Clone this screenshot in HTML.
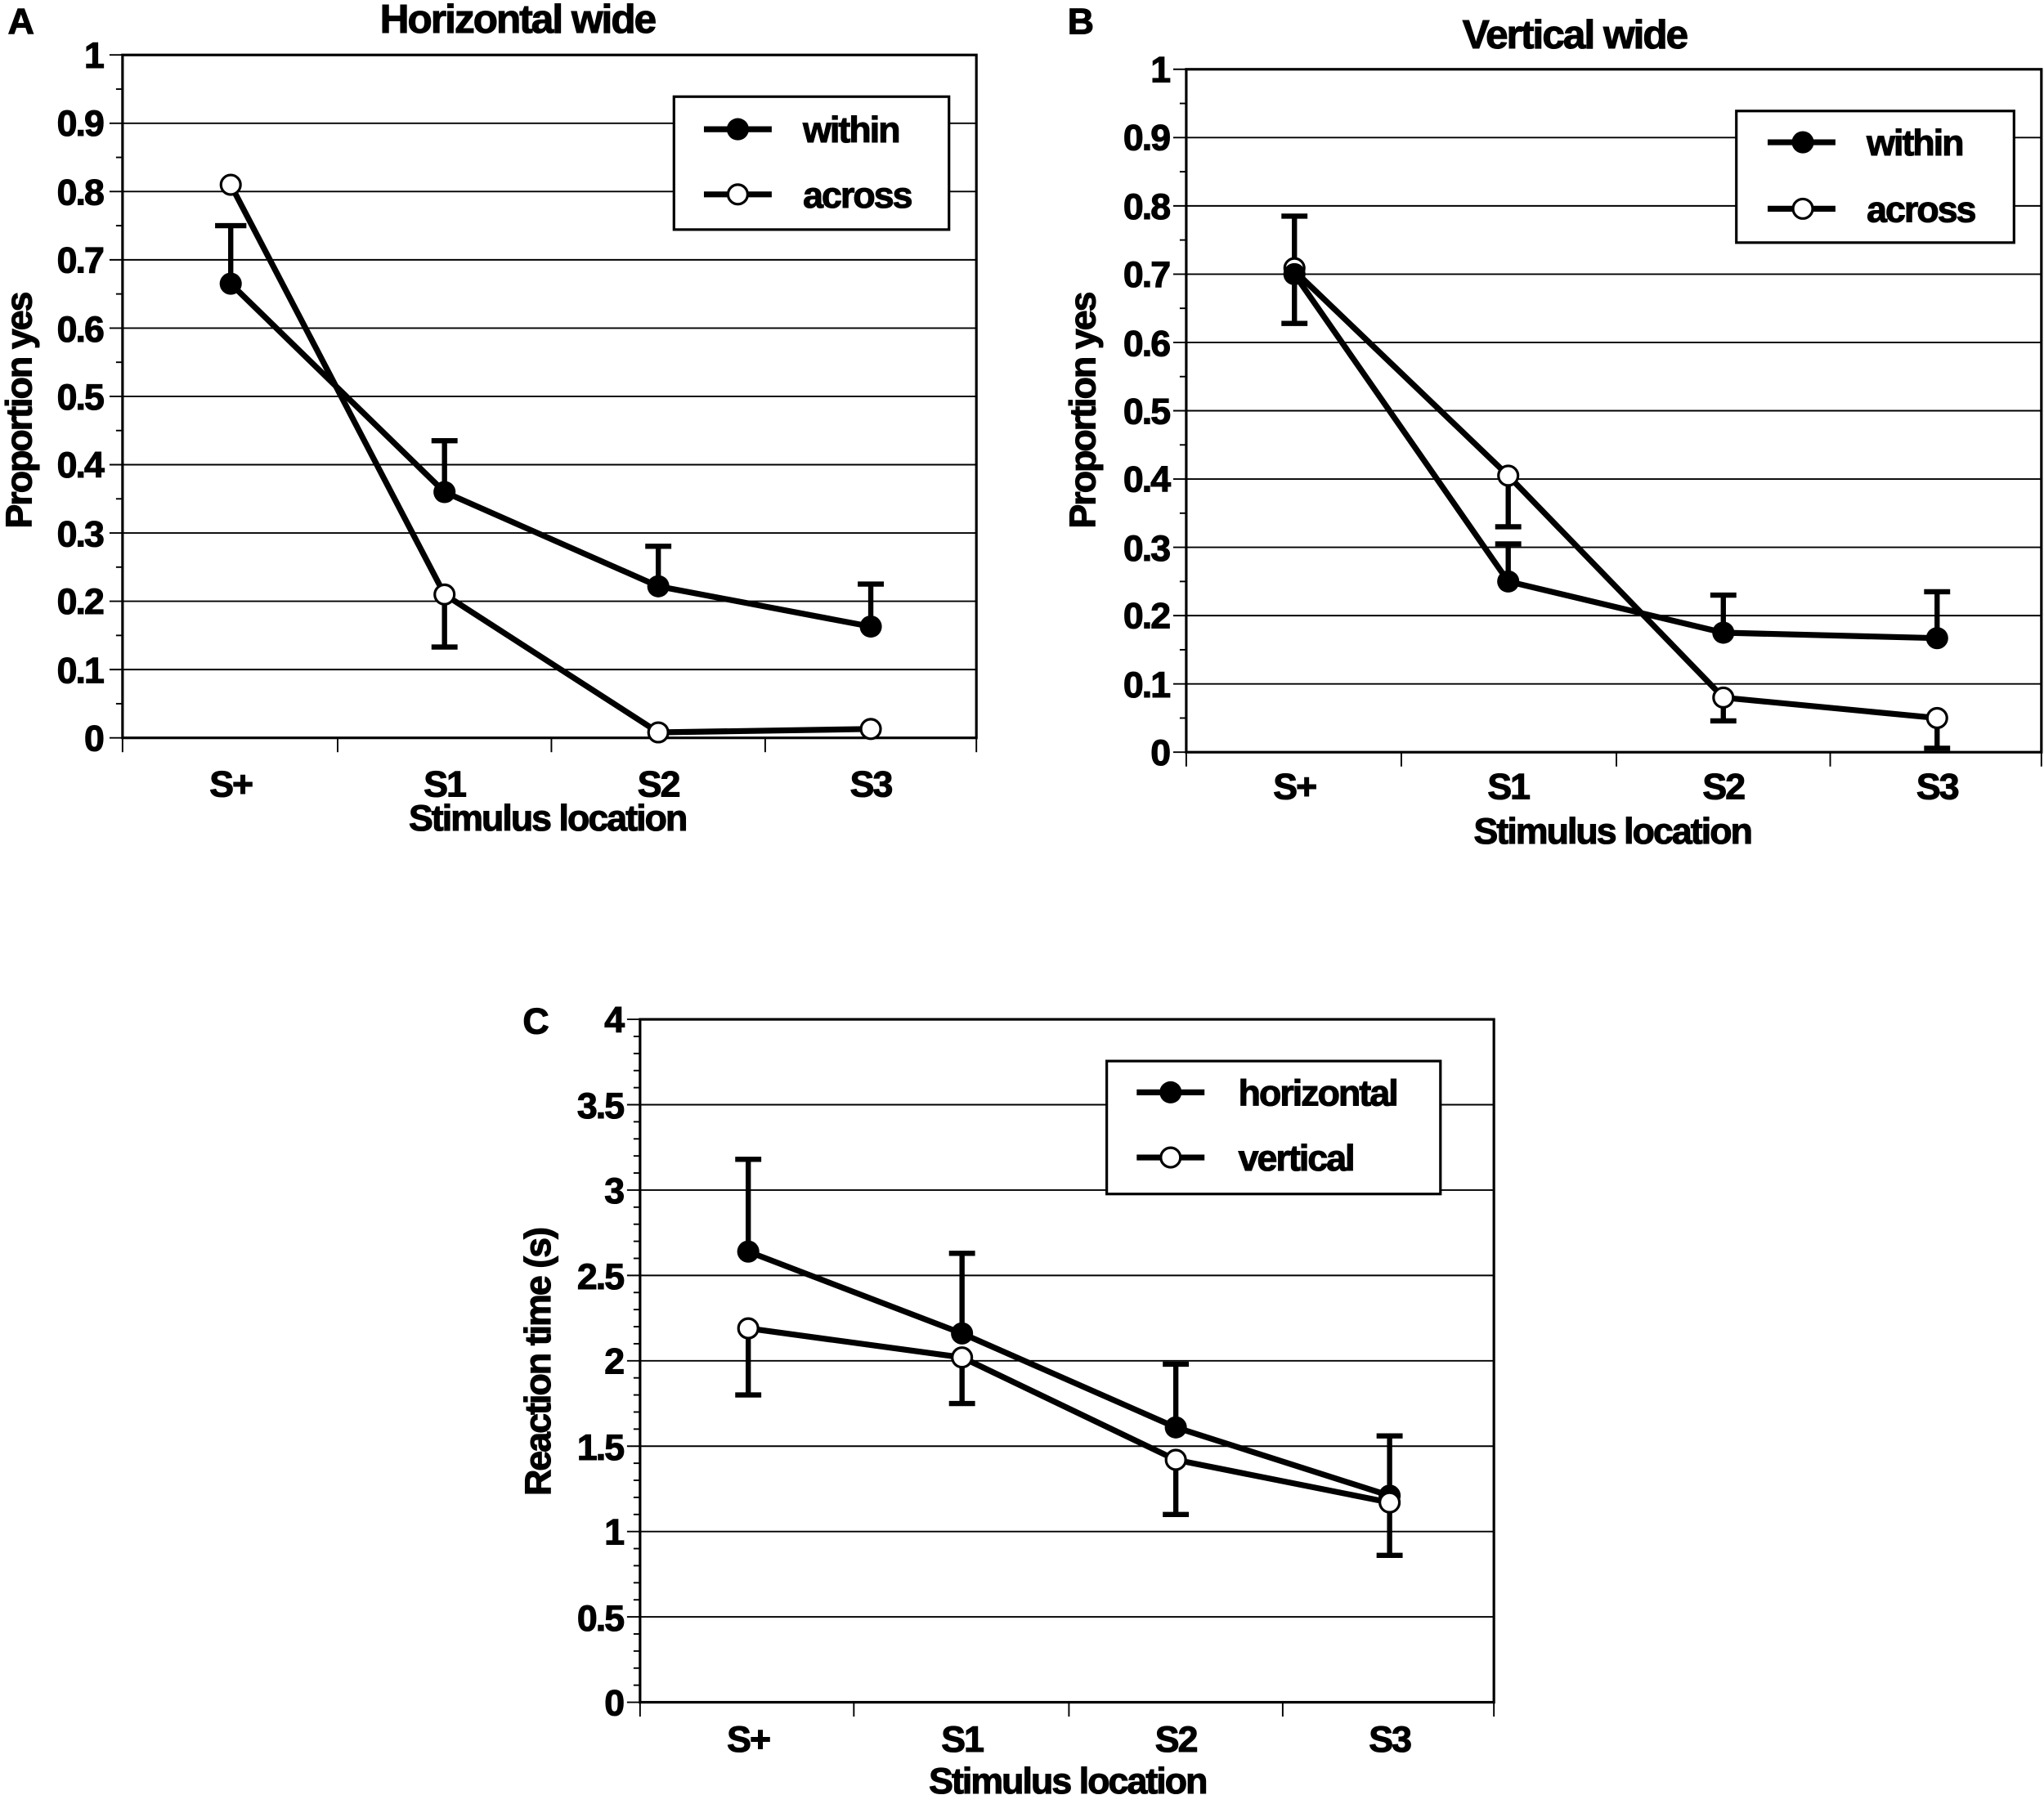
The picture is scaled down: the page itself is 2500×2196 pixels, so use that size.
<!DOCTYPE html>
<html><head><meta charset="utf-8"><style>
html,body{margin:0;padding:0;background:#fff}
svg{display:block}
text{font-family:"Liberation Sans",sans-serif;font-weight:bold;fill:#000}
.t{font-size:28px;letter-spacing:-1.2px;stroke:#000;stroke-width:0.7}
.g{stroke:#000;stroke-width:1.2}
.d{stroke:#000;stroke-width:4.5;fill:none}
.e{stroke:#000;stroke-width:4;fill:none}
.f{fill:#000}
.o{fill:#fff;stroke:#000;stroke-width:2}
</style></head><body>
<svg width="2500" height="2196" viewBox="0 0 1568 1377" xmlns="http://www.w3.org/2000/svg">
<!-- Panel A -->
<text x="6" y="26" class="t">A</text>
<text x="397" y="25" class="t" text-anchor="middle" style="font-size:31px">Horizontal wide</text>
<g class="g">
<line x1="94" y1="513.6" x2="749" y2="513.6"/><line x1="94" y1="461.2" x2="749" y2="461.2"/><line x1="94" y1="408.8" x2="749" y2="408.8"/><line x1="94" y1="356.4" x2="749" y2="356.4"/><line x1="94" y1="304" x2="749" y2="304"/><line x1="94" y1="251.6" x2="749" y2="251.6"/><line x1="94" y1="199.2" x2="749" y2="199.2"/><line x1="94" y1="146.8" x2="749" y2="146.8"/><line x1="94" y1="94.4" x2="749" y2="94.4"/>
<line x1="84" y1="566" x2="94" y2="566"/><line x1="84" y1="513.6" x2="94" y2="513.6"/><line x1="84" y1="461.2" x2="94" y2="461.2"/><line x1="84" y1="408.8" x2="94" y2="408.8"/><line x1="84" y1="356.4" x2="94" y2="356.4"/><line x1="84" y1="304" x2="94" y2="304"/><line x1="84" y1="251.6" x2="94" y2="251.6"/><line x1="84" y1="199.2" x2="94" y2="199.2"/><line x1="84" y1="146.8" x2="94" y2="146.8"/><line x1="84" y1="94.4" x2="94" y2="94.4"/><line x1="84" y1="42" x2="94" y2="42"/>
<line x1="89" y1="539.8" x2="94" y2="539.8"/><line x1="89" y1="487.4" x2="94" y2="487.4"/><line x1="89" y1="435" x2="94" y2="435"/><line x1="89" y1="382.6" x2="94" y2="382.6"/><line x1="89" y1="330.2" x2="94" y2="330.2"/><line x1="89" y1="277.8" x2="94" y2="277.8"/><line x1="89" y1="225.4" x2="94" y2="225.4"/><line x1="89" y1="173" x2="94" y2="173"/><line x1="89" y1="120.6" x2="94" y2="120.6"/><line x1="89" y1="68.2" x2="94" y2="68.2"/>
<line x1="94" y1="566" x2="94" y2="577"/><line x1="259" y1="566" x2="259" y2="577"/><line x1="423" y1="566" x2="423" y2="577"/><line x1="587" y1="566" x2="587" y2="577"/><line x1="749" y1="566" x2="749" y2="577"/>
</g>
<rect x="94" y="42" width="655" height="524" fill="none" stroke="#000" stroke-width="2"/>
<g class="t" text-anchor="end">
<text x="79" y="576">0</text><text x="79" y="524">0.1</text><text x="79" y="471">0.2</text><text x="79" y="419">0.3</text><text x="79" y="366">0.4</text><text x="79" y="314">0.5</text><text x="79" y="262">0.6</text><text x="79" y="209">0.7</text><text x="79" y="157">0.8</text><text x="79" y="104">0.9</text><text x="79" y="52">1</text>
</g>
<g class="t" text-anchor="middle">
<text x="177" y="611">S+</text><text x="341" y="611">S1</text><text x="505" y="611">S2</text><text x="668" y="611">S3</text>
<text x="420" y="637">Stimulus location</text>
</g>
<text class="t" transform="translate(24,315) rotate(-90)" text-anchor="middle">Proportion yes</text>
<path class="e" d="M177 217.5V173M165 173H189M341 377.4V338M331 338H351M505 449.7V419M495 419H515M668 480.6V448M658 448H678M341 456V496.3M331 496.3H351"/>
<polyline class="d" points="177,217.5 341,377.4 505,449.7 668,480.6"/>
<polyline class="d" points="177,141.6 341,456 505,561.8 668,559.2"/>
<circle class="f" cx="177" cy="217.5" r="8.5"/><circle class="f" cx="341" cy="377.4" r="8.5"/><circle class="f" cx="505" cy="449.7" r="8.5"/><circle class="f" cx="668" cy="480.6" r="8.5"/>
<circle class="o" cx="177" cy="141.6" r="7.5"/><circle class="o" cx="341" cy="456" r="7.5"/><circle class="o" cx="505" cy="561.8" r="7.5"/><circle class="o" cx="668" cy="559.2" r="7.5"/>
<rect x="517" y="74" width="211" height="102" fill="#fff" stroke="#000" stroke-width="2"/>
<line class="d" x1="540" y1="99" x2="592" y2="99"/><circle class="f" cx="566" cy="99" r="8.5"/>
<line class="d" x1="540" y1="149" x2="592" y2="149"/><circle class="o" cx="566" cy="149" r="7.5"/>
<text class="t" x="616" y="109">within</text><text class="t" x="616" y="159">across</text>

<!-- Panel B -->
<text x="819" y="26" class="t">B</text>
<text x="1208" y="37" class="t" text-anchor="middle" style="font-size:31px">Vertical wide</text>
<g class="g">
<line x1="910" y1="524.6" x2="1566" y2="524.6"/><line x1="910" y1="472.2" x2="1566" y2="472.2"/><line x1="910" y1="419.8" x2="1566" y2="419.8"/><line x1="910" y1="367.4" x2="1566" y2="367.4"/><line x1="910" y1="315" x2="1566" y2="315"/><line x1="910" y1="262.6" x2="1566" y2="262.6"/><line x1="910" y1="210.2" x2="1566" y2="210.2"/><line x1="910" y1="157.8" x2="1566" y2="157.8"/><line x1="910" y1="105.4" x2="1566" y2="105.4"/>
<line x1="900" y1="577" x2="910" y2="577"/><line x1="900" y1="524.6" x2="910" y2="524.6"/><line x1="900" y1="472.2" x2="910" y2="472.2"/><line x1="900" y1="419.8" x2="910" y2="419.8"/><line x1="900" y1="367.4" x2="910" y2="367.4"/><line x1="900" y1="315" x2="910" y2="315"/><line x1="900" y1="262.6" x2="910" y2="262.6"/><line x1="900" y1="210.2" x2="910" y2="210.2"/><line x1="900" y1="157.8" x2="910" y2="157.8"/><line x1="900" y1="105.4" x2="910" y2="105.4"/><line x1="900" y1="53" x2="910" y2="53"/>
<line x1="905" y1="550.8" x2="910" y2="550.8"/><line x1="905" y1="498.4" x2="910" y2="498.4"/><line x1="905" y1="446" x2="910" y2="446"/><line x1="905" y1="393.6" x2="910" y2="393.6"/><line x1="905" y1="341.2" x2="910" y2="341.2"/><line x1="905" y1="288.8" x2="910" y2="288.8"/><line x1="905" y1="236.4" x2="910" y2="236.4"/><line x1="905" y1="184" x2="910" y2="184"/><line x1="905" y1="131.6" x2="910" y2="131.6"/><line x1="905" y1="79.2" x2="910" y2="79.2"/>
<line x1="910" y1="577" x2="910" y2="588"/><line x1="1075" y1="577" x2="1075" y2="588"/><line x1="1240" y1="577" x2="1240" y2="588"/><line x1="1404" y1="577" x2="1404" y2="588"/><line x1="1566" y1="577" x2="1566" y2="588"/>
</g>
<rect x="910" y="53" width="656" height="524" fill="none" stroke="#000" stroke-width="2"/>
<g class="t" text-anchor="end">
<text x="897" y="587">0</text><text x="897" y="535">0.1</text><text x="897" y="482">0.2</text><text x="897" y="430">0.3</text><text x="897" y="377">0.4</text><text x="897" y="325">0.5</text><text x="897" y="273">0.6</text><text x="897" y="220">0.7</text><text x="897" y="168">0.8</text><text x="897" y="115">0.9</text><text x="897" y="63">1</text>
</g>
<g class="t" text-anchor="middle">
<text x="993" y="613">S+</text><text x="1157" y="613">S1</text><text x="1322" y="613">S2</text><text x="1486" y="613">S3</text>
<text x="1237" y="647">Stimulus location</text>
</g>
<text class="t" transform="translate(840,315) rotate(-90)" text-anchor="middle">Proportion yes</text>
<path class="e" d="M993 248V165.7M983 248H1003M983 165.7H1003M1157 446V417.2M1147 417.2H1167M1157 364.8V404M1147 404H1167M1322 485.3V456.5M1312 456.5H1332M1486 489.5V453.9M1476 453.9H1496M1322 535.1V553M1312 553H1332M1486 550.8V574M1476 574H1496"/>
<polyline class="d" points="993,210.2 1157,446 1322,485.3 1486,489.5"/>
<polyline class="d" points="993,207.6 1157,364.8 1322,535.1 1486,550.8"/>
<circle class="o" cx="993" cy="205.6" r="7.5"/>
<circle class="f" cx="993" cy="210.2" r="8.5"/><circle class="f" cx="1157" cy="446" r="8.5"/><circle class="f" cx="1322" cy="485.3" r="8.5"/><circle class="f" cx="1486" cy="489.5" r="8.5"/>
<circle class="o" cx="1157" cy="364.8" r="7.5"/><circle class="o" cx="1322" cy="535.1" r="7.5"/><circle class="o" cx="1486" cy="550.8" r="7.5"/>
<rect x="1332" y="85" width="213" height="101" fill="#fff" stroke="#000" stroke-width="2"/>
<line class="d" x1="1356" y1="109" x2="1408" y2="109"/><circle class="f" cx="1383" cy="109" r="8.5"/>
<line class="d" x1="1356" y1="160" x2="1408" y2="160"/><circle class="o" cx="1383" cy="160" r="7.5"/>
<text class="t" x="1432" y="119">within</text><text class="t" x="1432" y="170">across</text>

<!-- Panel C -->
<text x="401" y="793" class="t">C</text>
<g class="g">
<line x1="491" y1="1240.5" x2="1146" y2="1240.5"/><line x1="491" y1="1175" x2="1146" y2="1175"/><line x1="491" y1="1109.5" x2="1146" y2="1109.5"/><line x1="491" y1="1044" x2="1146" y2="1044"/><line x1="491" y1="978.5" x2="1146" y2="978.5"/><line x1="491" y1="913" x2="1146" y2="913"/><line x1="491" y1="847.5" x2="1146" y2="847.5"/>
<line x1="481" y1="1306" x2="491" y2="1306"/><line x1="481" y1="1240.5" x2="491" y2="1240.5"/><line x1="481" y1="1175" x2="491" y2="1175"/><line x1="481" y1="1109.5" x2="491" y2="1109.5"/><line x1="481" y1="1044" x2="491" y2="1044"/><line x1="481" y1="978.5" x2="491" y2="978.5"/><line x1="481" y1="913" x2="491" y2="913"/><line x1="481" y1="847.5" x2="491" y2="847.5"/><line x1="481" y1="782" x2="491" y2="782"/>
<line x1="486" y1="1292.9" x2="491" y2="1292.9"/><line x1="486" y1="1279.8" x2="491" y2="1279.8"/><line x1="486" y1="1266.7" x2="491" y2="1266.7"/><line x1="486" y1="1253.6" x2="491" y2="1253.6"/>
<line x1="486" y1="1227.4" x2="491" y2="1227.4"/><line x1="486" y1="1214.3" x2="491" y2="1214.3"/><line x1="486" y1="1201.2" x2="491" y2="1201.2"/><line x1="486" y1="1188.1" x2="491" y2="1188.1"/>
<line x1="486" y1="1161.9" x2="491" y2="1161.9"/><line x1="486" y1="1148.8" x2="491" y2="1148.8"/><line x1="486" y1="1135.7" x2="491" y2="1135.7"/><line x1="486" y1="1122.6" x2="491" y2="1122.6"/>
<line x1="486" y1="1096.4" x2="491" y2="1096.4"/><line x1="486" y1="1083.3" x2="491" y2="1083.3"/><line x1="486" y1="1070.2" x2="491" y2="1070.2"/><line x1="486" y1="1057.1" x2="491" y2="1057.1"/>
<line x1="486" y1="1030.9" x2="491" y2="1030.9"/><line x1="486" y1="1017.8" x2="491" y2="1017.8"/><line x1="486" y1="1004.7" x2="491" y2="1004.7"/><line x1="486" y1="991.6" x2="491" y2="991.6"/>
<line x1="486" y1="965.4" x2="491" y2="965.4"/><line x1="486" y1="952.3" x2="491" y2="952.3"/><line x1="486" y1="939.2" x2="491" y2="939.2"/><line x1="486" y1="926.1" x2="491" y2="926.1"/>
<line x1="486" y1="899.9" x2="491" y2="899.9"/><line x1="486" y1="886.8" x2="491" y2="886.8"/><line x1="486" y1="873.7" x2="491" y2="873.7"/><line x1="486" y1="860.6" x2="491" y2="860.6"/>
<line x1="486" y1="834.4" x2="491" y2="834.4"/><line x1="486" y1="821.3" x2="491" y2="821.3"/><line x1="486" y1="808.2" x2="491" y2="808.2"/><line x1="486" y1="795.1" x2="491" y2="795.1"/>
<line x1="491" y1="1306" x2="491" y2="1317"/><line x1="655" y1="1306" x2="655" y2="1317"/><line x1="820" y1="1306" x2="820" y2="1317"/><line x1="984" y1="1306" x2="984" y2="1317"/><line x1="1146" y1="1306" x2="1146" y2="1317"/>
</g>
<rect x="491" y="782" width="655" height="524" fill="none" stroke="#000" stroke-width="2"/>
<g class="t" text-anchor="end">
<text x="478" y="1316">0</text><text x="478" y="1251">0.5</text><text x="478" y="1185">1</text><text x="478" y="1120">1.5</text><text x="478" y="1054">2</text><text x="478" y="989">2.5</text><text x="478" y="923">3</text><text x="478" y="858">3.5</text><text x="478" y="792">4</text>
</g>
<g class="t" text-anchor="middle">
<text x="574" y="1344">S+</text><text x="738" y="1344">S1</text><text x="902" y="1344">S2</text><text x="1066" y="1344">S3</text>
<text x="819" y="1376">Stimulus location</text>
</g>
<text class="t" transform="translate(422,1045) rotate(-90)" text-anchor="middle">Reaction time (s)</text>
<path class="e" d="M574 960.2V889.4M564 889.4H584M738 1023V961.5M728 961.5H748M902 1095.1V1046.6M892 1046.6H912M1066 1147.5V1101.6M1056 1101.6H1076M574 1019.1V1070.2M564 1070.2H584M738 1041.4V1076.8M728 1076.8H748M902 1120V1161.9M892 1161.9H912M1066 1152.7V1193.3M1056 1193.3H1076"/>
<polyline class="d" points="574,960.2 738,1023 902,1095.1 1066,1147.5"/>
<polyline class="d" points="574,1019.1 738,1041.4 902,1120 1066,1152.7"/>
<circle class="f" cx="574" cy="960.2" r="8.5"/><circle class="f" cx="738" cy="1023" r="8.5"/><circle class="f" cx="902" cy="1095.1" r="8.5"/><circle class="f" cx="1066" cy="1147.5" r="8.5"/>
<circle class="o" cx="574" cy="1019.1" r="7.5"/><circle class="o" cx="738" cy="1041.4" r="7.5"/><circle class="o" cx="902" cy="1120" r="7.5"/><circle class="o" cx="1066" cy="1152.7" r="7.5"/>
<rect x="849" y="814" width="256" height="102" fill="#fff" stroke="#000" stroke-width="2"/>
<line class="d" x1="872" y1="838" x2="924" y2="838"/><circle class="f" cx="898" cy="838" r="8.5"/>
<line class="d" x1="872" y1="888" x2="924" y2="888"/><circle class="o" cx="898" cy="888" r="7.5"/>
<text class="t" x="950" y="848">horizontal</text><text class="t" x="950" y="898">vertical</text>
</svg>
</body></html>
